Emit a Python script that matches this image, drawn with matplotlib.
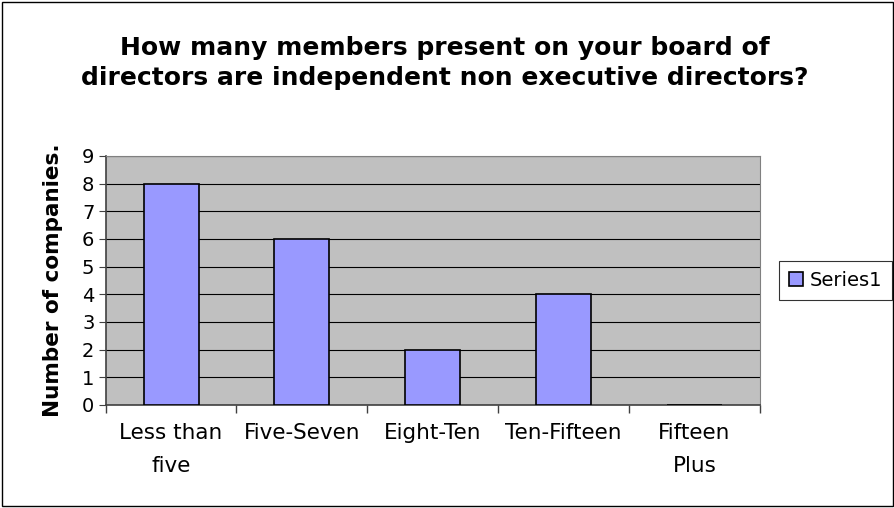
import numpy as np
import matplotlib.pyplot as plt
from matplotlib.patches import Rectangle

categorias = ["Less than\nfive", "Five-Seven", "Eight-Ten", "Ten-Fifteen", "Fifteen\nPlus"]
valores = [8, 6, 2, 4, 0]
yticks = list(range(0, 10))

plt.rcParams['font.family'] = ['DejaVu Sans']

fig = plt.figure(figsize=(8.95, 5.08), dpi=100)
ax = fig.add_axes([0.118, 0.203, 0.731, 0.49])
ax.set_facecolor('#C0C0C0')

x = np.arange(len(categorias))
barras = ax.bar(x, valores, width=0.42, color='#9999FF', edgecolor='black',
                linewidth=1.2, label='Series1', zorder=3)

ax.set_xlim(-0.5, len(categorias) - 0.5)
ax.set_ylim(0, 9)
ax.set_yticks(yticks)
ax.yaxis.grid(True, color='black', linewidth=0.8, zorder=0)
ax.set_axisbelow(True)

# etiquetas de categoria centradas, ticks en los bordes
ax.set_xticks(x)
ax.set_xticklabels(categorias, fontsize=15.5, linespacing=1.8)
ax.tick_params(axis='x', length=0, pad=13)
ax.set_xticks(np.arange(-0.5, len(categorias)), minor=True)
ax.tick_params(axis='x', which='minor', length=6, color='#404040', width=1)
ax.tick_params(axis='y', labelsize=14, length=5, color='#404040', pad=3)

for lado in ['top', 'right']:
    ax.spines[lado].set_color('#808080')
for lado in ['left', 'bottom']:
    ax.spines[lado].set_color('#404040')
    ax.spines[lado].set_linewidth(1.2)

ax.set_ylabel('Number of companies.', fontsize=15.5, fontweight='bold', labelpad=14)

fig.text(0.497, 0.876, 'How many members present on your board of\n'
         'directors are independent non executive directors?',
         ha='center', va='center', fontsize=18, fontweight='bold', linespacing=1.3)

leg = ax.legend(loc='center left', bbox_to_anchor=(1.03, 0.5), fontsize=14,
                frameon=True, fancybox=False, edgecolor='black', borderpad=0.5,
                handlelength=0.7, handleheight=0.7, handletextpad=0.35,
                borderaxespad=0)
leg.get_frame().set_linewidth(0.8)

fig.patches.append(Rectangle((0.002, 0.004), 0.996, 0.992, transform=fig.transFigure,
                             fill=False, edgecolor='black', linewidth=1))

fig.savefig('out.png', dpi=100)
